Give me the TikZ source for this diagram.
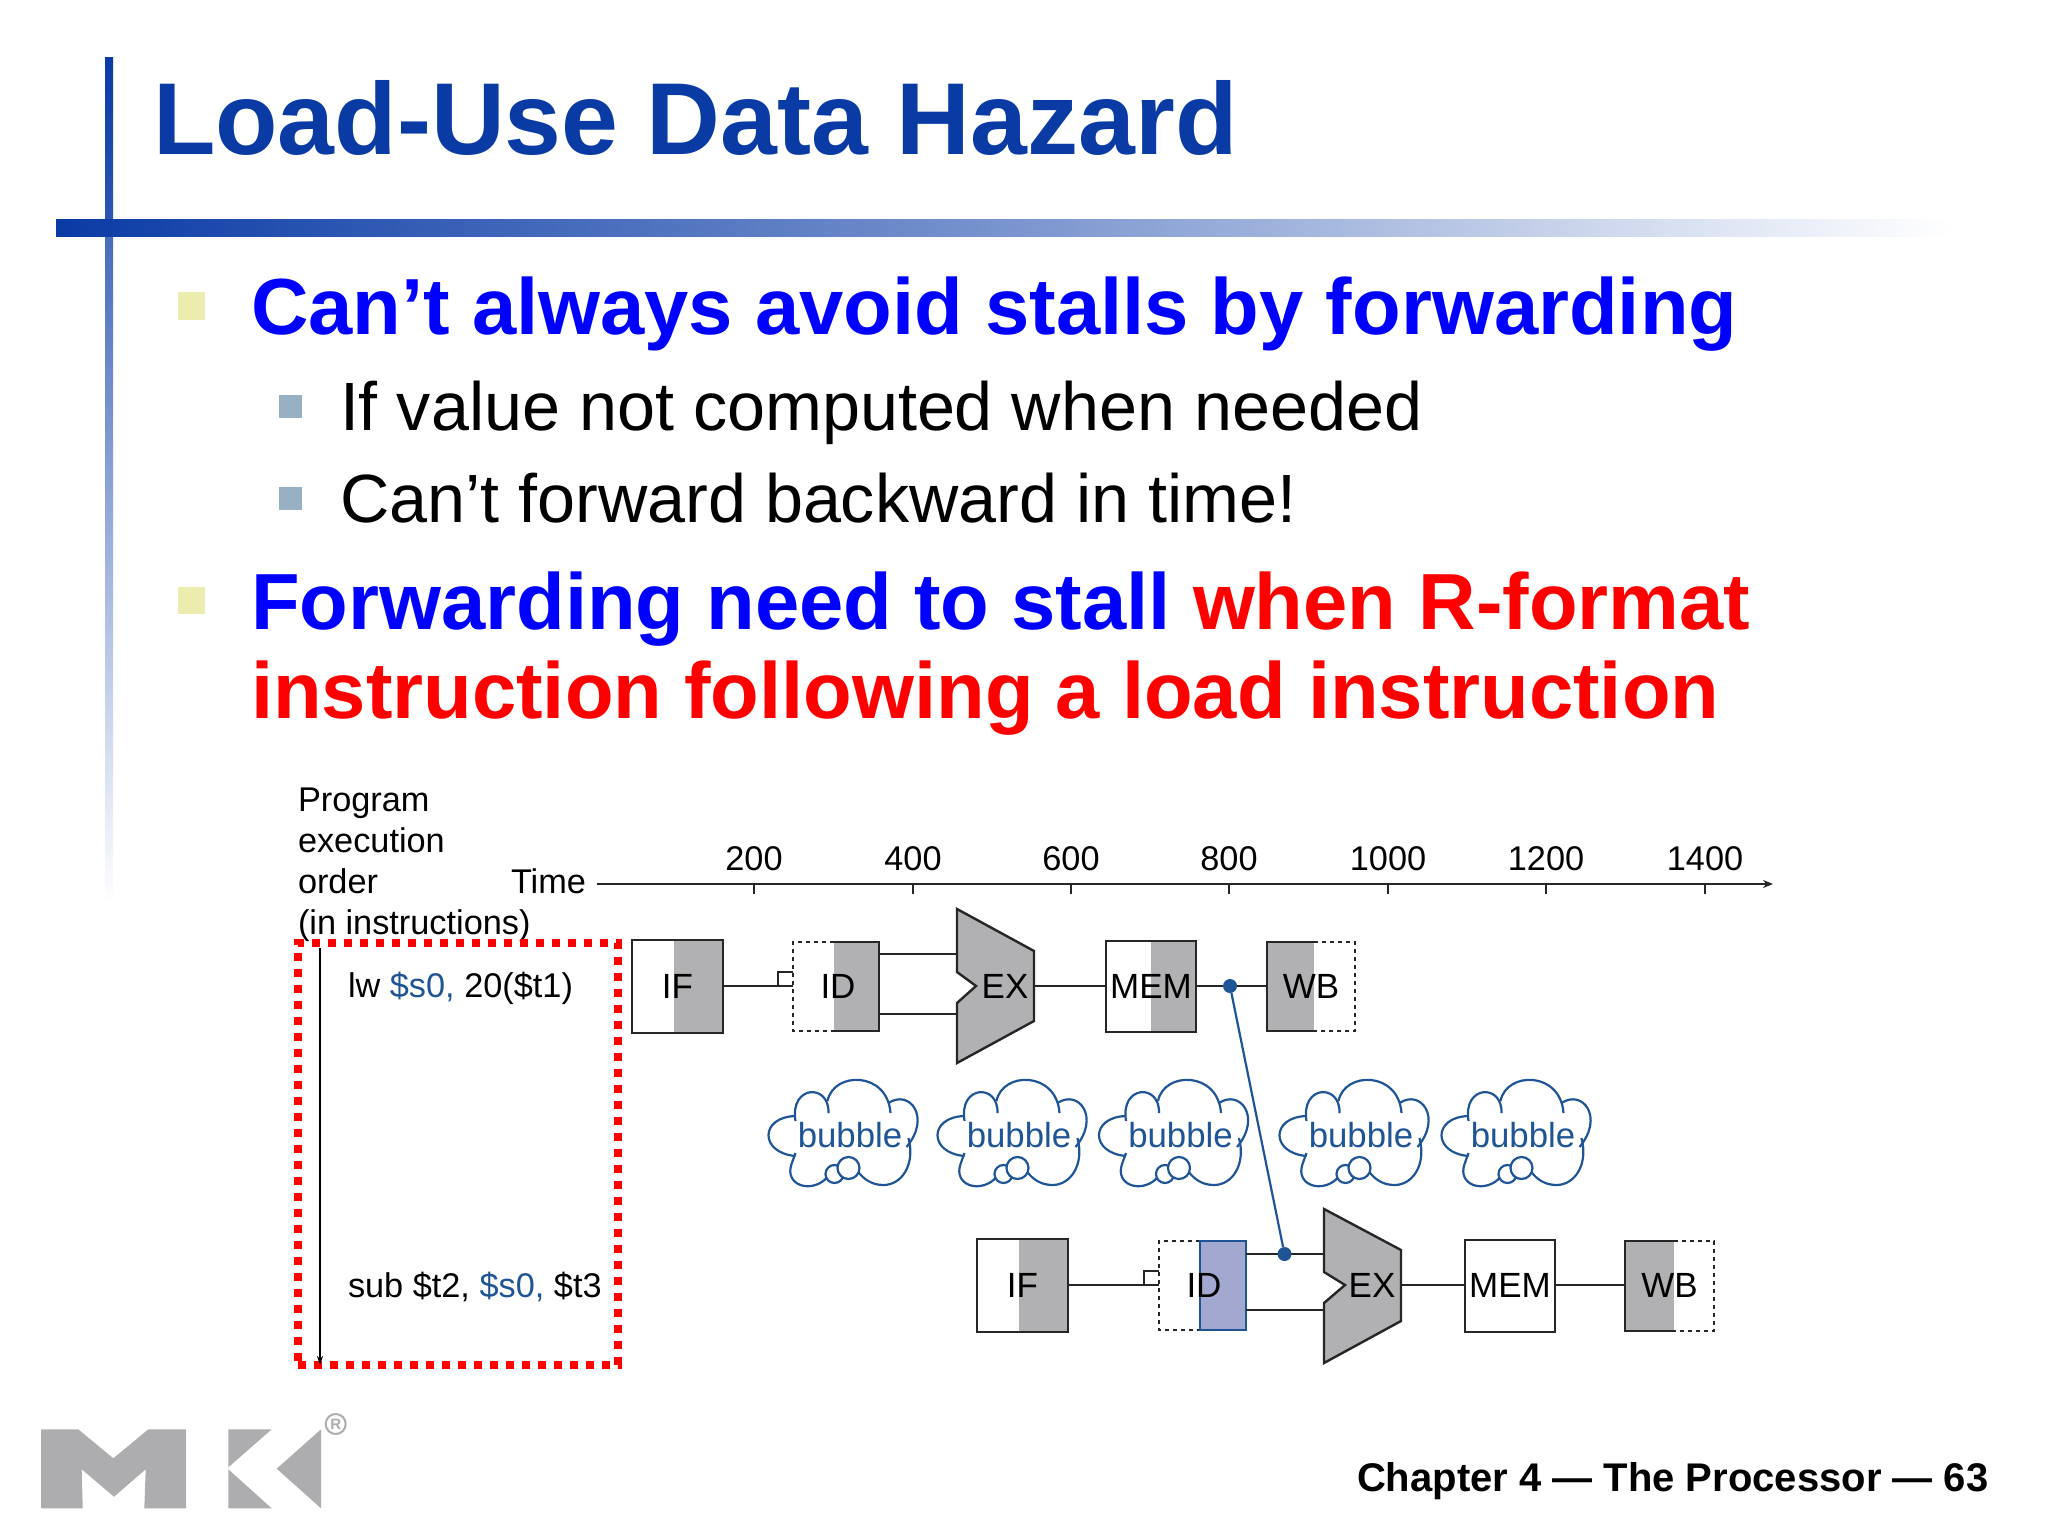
\documentclass[tikz,border=0pt]{standalone}
\usepackage{fontspec}
\setmainfont{Liberation Sans}
\usetikzlibrary{arrows.meta}
\definecolor{titleblue}{HTML}{0A3BA5}
\definecolor{lineblue}{HTML}{1F5596}
\definecolor{shadegray}{HTML}{B1B1B3}
\definecolor{lav}{HTML}{A3A8D0}
\definecolor{bul}{HTML}{ECECAE}
\definecolor{subbul}{HTML}{98B0C4}
\definecolor{logogray}{HTML}{ADADAF}
\newcommand\fs[1]{\fontsize{#1}{#1}\selectfont}
\tikzset{
  txt/.style={anchor=base west,inner sep=0pt,outer sep=0pt},
  small/.style={txt,font=\fs{34.3}},
  tick/.style={anchor=base,inner sep=0pt,font=\fs{34.3}},
  stagelabel/.style={inner sep=0pt,outer sep=0pt,font=\fs{35}},
  wire/.style={draw=black!85,line width=2.2pt},
  solidbox/.style={draw=black!85,line width=2.6pt},
  dashbox/.style={draw=black!85,line width=2.2pt,dash pattern=on 4pt off 4pt},
  shade box/.style={fill=shadegray},
  alu/.style={fill=shadegray,draw=black!85,line width=2.4pt,line join=miter},
  dotnode/.style={circle,fill=lineblue,inner sep=0pt,minimum size=14pt},
  cloudline/.style={draw=lineblue,line width=2.2pt},
}
\newcommand\bubblecloud[3]{%
 \begin{scope}[shift={(#2,#3)}]
  \draw[cloudline] (-48,23) .. controls (-84,20) and (-84,-16) .. (-48,-17);
  \draw[cloudline] (-48,-12) .. controls (-54,-48) and (-14,-50) .. (-15,-20);
  \draw[cloudline] (-16,-32) .. controls (-10,-62) and (44,-62) .. (47,-20);
  \draw[cloudline] (45,-30) .. controls (66,-44) and (88,-16) .. (63,14);
  \draw[cloudline] (65,5) .. controls (72,32) and (58,52) .. (40,52) .. controls (28,52) and (20,46) .. (14,38);
  \draw[cloudline] (-16,44) .. controls (-30,60) and (-56,54) .. (-53,35) .. controls (-52,30) and (-50,26) .. (-48,20);
  \draw[cloudline,fill=white] (-9,41) circle (9);
  \draw[cloudline,fill=white] (5,35) circle (11);
  \node[inner sep=0pt,font=\fs{34.8},text=lineblue] (#1) at (6.5,2) {bubble};
 \end{scope}}
\begin{document}
\begin{tikzpicture}[x=1pt,y=-1pt]
\useasboundingbox (0,0) rectangle (2048,1536);
% frame bars
\shade[top color=titleblue,bottom color=titleblue!85!white] (105,58) rectangle (113,236);
\shade[top color=titleblue!75!white,bottom color=white] (105,236) rectangle (113,905);
\shade[left color=titleblue,right color=white,middle color=titleblue!55!white] (56,219) rectangle (1950,236);
% title and text
\node[txt,font=\fs{102.2}\bfseries,text=titleblue] (title) at (153,155) {Load-Use Data Hazard};
\fill[bul] (178,292) rectangle (205,320);
\fill[bul] (178,587) rectangle (205,614);
\fill[subbul] (279,395) rectangle (302,418);
\fill[subbul] (279,487) rectangle (302,510);
\node[txt,font=\fs{79.6}\bfseries,text=blue] (l1) at (251,334) {Can’t always avoid stalls by forwarding};
\node[txt,font=\fs{68.3}] (l2) at (340,430) {If value not computed when needed};
\node[txt,font=\fs{68.3}] (l3) at (340,522) {Can’t forward backward in time!};
\node[txt,font=\fs{79.6}\bfseries,text=blue] (l4) at (251,629) {Forwarding need to stall \textcolor{red}{when R-format}};
\node[txt,font=\fs{79.6}\bfseries,text=red] (l5) at (251,718) {instruction following a load instruction};
% left labels
\node[small] (p1) at (298,811) {Program};
\node[small] (p2) at (298,852) {execution};
\node[small] (p3) at (298,893) {order};
\node[small] (p4) at (298,934) {(in instructions)};
\node[small] (time) at (511,893) {Time};
% axis
\coordinate (axs) at (597,884);
\coordinate (axe) at (1773,884);
\draw[wire,-{Stealth[length=10pt,width=8pt]}] (axs) -- (axe);
\foreach \x/\t in {754/200,913/400,1071/600,1229/800,1388/1000,1546/1200,1705/1400}{
  \node[tick] (t\t) at (\x,870) {\t};
  \draw[line width=1.6pt,draw=black!85] (\x,884) -- (\x,894);
}
% red box
\node[draw=red,line width=8pt,dash pattern=on 8pt off 8pt,inner sep=0pt,minimum width=320pt,minimum height=422pt] (redbox) at (458,1154) {};
\coordinate (ots) at (320,948);
\coordinate (ote) at (320,1365);
\draw[draw=black,line width=1.8pt,-{Stealth[length=9pt,width=6pt]}] (ots) -- (ote);
\node[small] (i1) at (348,997) {lw \textcolor{lineblue}{\$s0,} 20(\$t1)};
\node[small] (i2) at (348,1297) {sub \$t2, \textcolor{lineblue}{\$s0,} \$t3};
% row 1 wires
\coordinate (ex1a) at (957,954);
\coordinate (ex1b) at (957,1014);
\coordinate (ex1o) at (1034,986);
\coordinate (stub1) at (778,986);
\coordinate (stub1t) at (778,972);
\coordinate (id1w) at (793,986);
\coordinate (id1n) at (793,972);
\coordinate (id1a) at (879,954);
\coordinate (id1b) at (879,1014);
% row 1 stages
\fill[shade box] (674,940) rectangle (723,1033);
\draw[solidbox] (632,940) rectangle (723,1033);
\node[stagelabel,minimum width=91pt,minimum height=92pt] (if1) at (677.5,986) {IF};
\fill[shade box] (834,942) rectangle (879,1031);
\draw[dashbox] (834,942) -- (793,942) -- (793,1031) -- (834,1031);
\draw[solidbox] (834,942) -- (879,942) -- (879,1031) -- (834,1031);
\node[stagelabel] (id1) at (838,986) {ID};
\draw[alu] (957,909) -- (1034,951) -- (1034,1021) -- (957,1063) -- (957,1003) -- (976,986) -- (957,972) -- cycle;
\node[stagelabel] (ex1) at (1005,986) {EX};
\fill[shade box] (1151,941) rectangle (1196,1032);
\draw[solidbox] (1106,941) rectangle (1196,1032);
\node[stagelabel,minimum width=90pt,minimum height=91pt] (mem1) at (1151,986) {MEM};
\fill[shade box] (1267,942) rectangle (1314,1031);
\draw[dashbox] (1314,942) -- (1355,942) -- (1355,1031) -- (1314,1031);
\draw[solidbox] (1314,942) -- (1267,942) -- (1267,1031) -- (1314,1031);
\node[stagelabel,minimum width=88pt,minimum height=89pt] (wb1) at (1311,986) {WB};
\draw[wire] (if1.east) -- (id1w);
\draw[wire] (stub1) -- (stub1t) -- (id1n);
\draw[wire] (id1a) -- (ex1a);
\draw[wire] (id1b) -- (ex1b);
\draw[wire] (ex1o) -- (mem1.west);
\draw[wire] (mem1.east) -- (wb1.west);
% row 2 wires
\coordinate (ex2a) at (1324,1254);
\coordinate (ex2b) at (1324,1310);
\coordinate (ex2o) at (1401,1285);
\coordinate (stub2) at (1144,1285);
\coordinate (stub2t) at (1144,1271);
\coordinate (id2w) at (1159,1285);
\coordinate (id2n) at (1159,1271);
\coordinate (id2a) at (1246,1254);
\coordinate (id2b) at (1246,1310);
% row 2 stages
\fill[shade box] (1019,1239) rectangle (1068,1332);
\draw[solidbox] (977,1239) rectangle (1068,1332);
\node[stagelabel,minimum width=91pt,minimum height=92pt] (if2) at (1022.5,1285) {IF};
\draw[dashbox] (1200,1241) -- (1159,1241) -- (1159,1330) -- (1200,1330);
\draw[draw=lineblue,fill=lav,line width=2.2pt] (1200,1241) rectangle (1246,1330);
\node[stagelabel] (id2) at (1204,1285) {ID};
\draw[alu] (1324,1209) -- (1401,1250) -- (1401,1321) -- (1324,1363) -- (1324,1303) -- (1345,1285) -- (1324,1272) -- cycle;
\node[stagelabel] (ex2) at (1372,1285) {EX};
\draw[solidbox] (1465,1240) rectangle (1555,1332);
\node[stagelabel,minimum width=90pt,minimum height=91pt] (mem2) at (1510,1285) {MEM};
\fill[shade box] (1625,1241) rectangle (1674,1331);
\draw[dashbox] (1674,1241) -- (1714,1241) -- (1714,1331) -- (1674,1331);
\draw[solidbox] (1674,1241) -- (1625,1241) -- (1625,1331) -- (1674,1331);
\node[stagelabel,minimum width=89pt,minimum height=90pt] (wb2) at (1669.5,1285) {WB};
\draw[wire] (if2.east) -- (id2w);
\draw[wire] (stub2) -- (stub2t) -- (id2n);
\draw[wire] (id2a) -- (ex2a);
\draw[wire] (id2b) -- (ex2b);
\draw[wire] (ex2o) -- (mem2.west);
\draw[wire] (mem2.east) -- (wb2.west);
% clouds
\bubblecloud{b1}{843.5}{1133}
\bubblecloud{b2}{1012.5}{1133}
\bubblecloud{b3}{1174}{1133}
\bubblecloud{b4}{1354.5}{1133}
\bubblecloud{b5}{1516.5}{1133}
% forwarding
\node[dotnode] (fwd1) at (1230,986) {};
\node[dotnode] (fwd2) at (1284.5,1254) {};
\draw[draw=lineblue,line width=2.2pt] (fwd1) -- (fwd2);
% footer
\node[txt,font=\fs{40}\bfseries] (foot) at (1357,1491) {Chapter 4 — The Processor — 63};
% logo
\fill[logogray] (41,1429.3) -- (78.3,1429.3) -- (113.3,1458.3) -- (148.3,1429.3) -- (186,1429.3) -- (186,1508.3) -- (144.3,1508.3) -- (145.7,1469.3) -- (114,1496.7) -- (81.7,1469.3) -- (82.7,1508.3) -- (41,1508.3) -- cycle;
\fill[logogray] (228.3,1429.3) -- (271.7,1429.3) -- (228.3,1467.3) -- cycle;
\fill[logogray] (228.3,1469.3) -- (271.7,1508.3) -- (228.3,1508.3) -- cycle;
\fill[logogray] (321,1429.3) -- (321,1508.3) -- (276.7,1468.7) -- cycle;
\node[circle,draw=logogray,line width=2pt,inner sep=0pt,minimum size=20pt,text=logogray,font=\fs{15}\bfseries] (reg) at (335.7,1424) {R};
\end{tikzpicture}
\end{document}
